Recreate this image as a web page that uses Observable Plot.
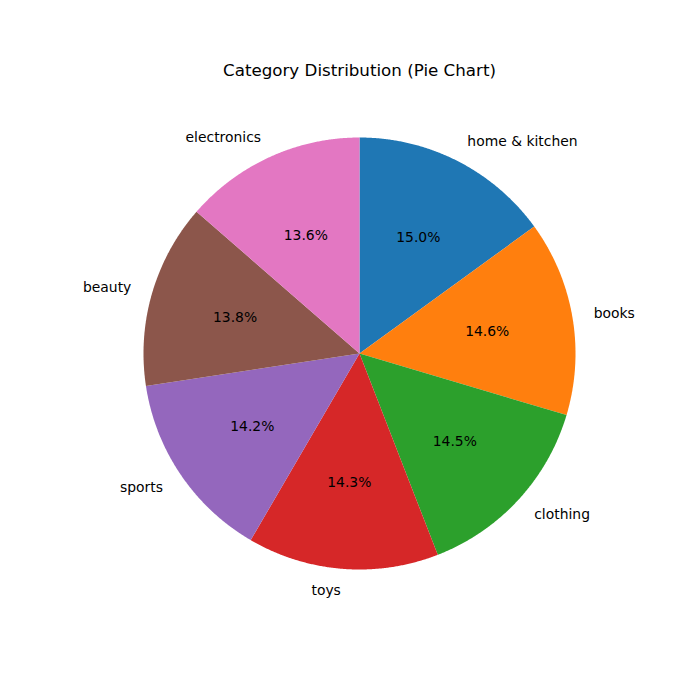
<!DOCTYPE html>
<html>
<head>
<meta charset="utf-8">
<script src="https://cdn.jsdelivr.net/npm/d3@7"></script>
<script src="https://cdn.jsdelivr.net/npm/@observablehq/plot@0.6"></script>
<style>
  html, body { margin: 0; padding: 0; background: #fff; }
  svg { font-family: "DejaVu Sans", sans-serif; }
</style>
</head>
<body>
<div id="chart"></div>
<script>
const categories = ["home & kitchen", "books", "clothing", "toys", "sports", "beauty", "electronics"];
const shares = [15.0, 14.6, 14.5, 14.3, 14.2, 13.8, 13.6];
const colors = ["#1f77b4", "#ff7f0e", "#2ca02c", "#d62728", "#9467bd", "#8c564b", "#e377c2"];
const title = "Category Distribution (Pie Chart)";

const W = 700, H = 700, R = 216, cx = 359, cy = 353;
const total = d3.sum(shares);

// Build slices: angle measured from top, clockwise
const slicePts = [];
const labels = [];
let acc = 0;
categories.forEach((c, i) => {
  const a0 = acc / total * 2 * Math.PI;
  acc += shares[i];
  const a1 = acc / total * 2 * Math.PI;
  slicePts.push({cat: c, x: 0, y: 0});
  const n = Math.max(2, Math.ceil((a1 - a0) / 0.005));
  for (let k = 0; k <= n; k++) {
    const a = a0 + (a1 - a0) * k / n;
    slicePts.push({cat: c, x: Math.sin(a), y: Math.cos(a)});
  }
  slicePts.push({cat: c, x: 0, y: 0});
  const am = (a0 + a1) / 2;
  labels.push({
    cat: c,
    pct: (shares[i] / total * 100).toFixed(1) + "%",
    lx: 1.1 * Math.sin(am), ly: 1.1 * Math.cos(am),
    px: 0.6 * Math.sin(am), py: 0.6 * Math.cos(am),
    anchor: Math.sin(am) > 0 ? "start" : "end"
  });
});

const plot = Plot.plot({
  width: W, height: H,
  margin: 0,
  x: {domain: [-cx / R, (W - cx) / R], axis: null},
  y: {domain: [-(H - cy) / R, cy / R], axis: null},
  color: {domain: categories, range: colors},
  marks: [
    Plot.line(slicePts, {x: "x", y: "y", z: "cat", fill: "cat", stroke: "none", curve: "linear"}),
    Plot.text(labels.filter(d => d.anchor === "start"), {x: "lx", y: "ly", text: "cat", textAnchor: "start", fontSize: 13.9, fill: "black"}),
    Plot.text(labels.filter(d => d.anchor === "end"), {x: "lx", y: "ly", text: "cat", textAnchor: "end", fontSize: 13.9, fill: "black"}),
    Plot.text(labels, {x: "px", y: "py", text: "pct", textAnchor: "middle", fontSize: 13.9, fill: "black"}),
    Plot.text([title], {frameAnchor: "top", dy: 70, dx: 9, text: d => d, fontSize: 16.7, fill: "black", lineAnchor: "middle"})
  ]
});
document.getElementById("chart").appendChild(plot);
</script>
</body>
</html>
